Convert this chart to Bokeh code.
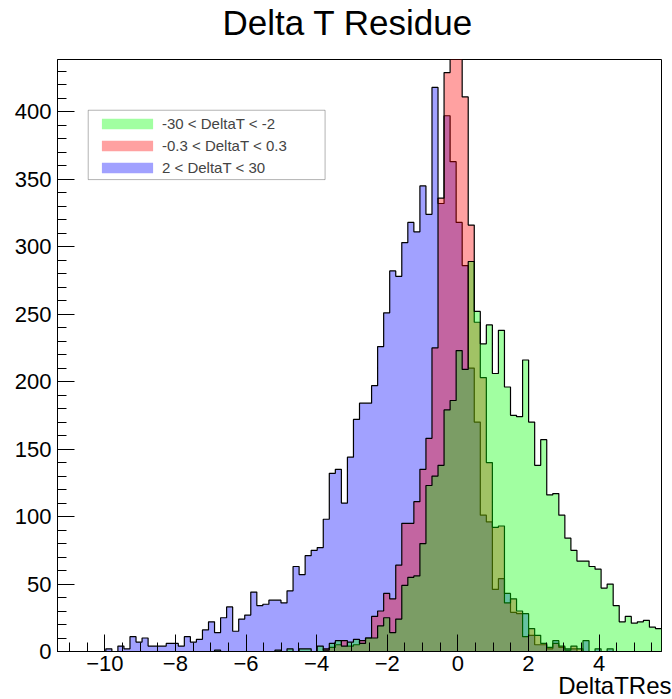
import numpy as np
from bokeh.plotting import figure
from bokeh.models import (Range1d, SingleIntervalTicker, CustomJSTickFormatter,
                          Legend, LegendItem, BoxAnnotation, Title)
from bokeh.embed import file_html
from bokeh.resources import INLINE

# ---------------- data ----------------
X_MIN, X_MAX, N_BINS = -11.34, 5.77, 100
Y_MAX = 438.7

series_labels = ["-30 < DeltaT < -2", "-0.3 < DeltaT < 0.3", "2 < DeltaT < 30"]

green_counts = [
    0, 0, 0, 0, 0, 0, 0, 0, 0, 0,
    0, 0, 0, 0, 0, 0, 0, 0, 0, 0,
    0, 0, 0, 0, 0, 0, 1, 0, 0, 0,
    0, 0, 0, 0, 0, 0, 1, 0, 2, 0,
    2, 2, 0, 4, 1, 6, 8, 4, 7, 9,
    6, 10, 10, 19, 25, 14, 24, 49, 55, 56,
    80, 123, 130, 138, 179, 186, 223, 209, 289, 252,
    228, 242, 206, 238, 196, 175, 174, 216, 170, 138,
    157, 116, 117, 101, 84, 75, 67, 67, 63, 61,
    47, 50, 34, 22, 26, 21, 22, 23, 18, 17,
]

red_counts = [
    0, 0, 0, 0, 0, 0, 0, 0, 0, 0,
    0, 0, 0, 0, 0, 0, 0, 0, 0, 0,
    0, 0, 0, 0, 0, 0, 0, 0, 0, 0,
    0, 0, 0, 0, 0, 0, 0, 0, 0, 0,
    0, 0, 0, 0, 2, 3, 5, 8, 4, 5,
    8, 10, 26, 30, 43, 39, 64, 95, 95, 111,
    135, 158, 225, 336, 429, 455, 450, 411, 316, 244,
    203, 140, 92, 93, 36, 39, 30, 11, 17, 12,
    6, 3, 6, 4, 1, 4, 2, 0, 0, 0,
    0, 0, 0, 0, 0, 0, 0, 0, 0, 0,
]

blue_counts = [
    0, 0, 0, 0, 0, 0, 0, 0, 2, 0,
    4, 2, 11, 7, 10, 4, 4, 4, 6, 6,
    4, 11, 7, 9, 16, 22, 14, 25, 33, 15,
    24, 27, 44, 34, 35, 38, 38, 36, 45, 63,
    57, 71, 75, 77, 98, 132, 135, 110, 144, 172,
    184, 184, 197, 226, 251, 282, 278, 303, 318, 311,
    345, 324, 418, 332, 397, 363, 318, 286, 210, 170,
    101, 96, 46, 54, 43, 29, 28, 28, 12, 5,
    5, 2, 8, 3, 2, 2, 0, 8, 0, 2,
    0, 2, 0, 0, 0, 0, 0, 0, 0, 0,
]

x_tick_interval = 2
y_tick_interval = 50

# ---------------- figure ----------------
FONT = "Liberation Sans"
edges = np.linspace(X_MIN, X_MAX, N_BINS + 1)

p = figure(width=672, height=699,
           x_range=Range1d(X_MIN, X_MAX), y_range=Range1d(0, Y_MAX),
           output_backend="svg", toolbar_location=None,
           min_border_left=57, min_border_right=11,
           min_border_top=59, min_border_bottom=48,
           title="Delta T Residue\n")
p.title.align = "left"
p.title.offset = 165
p.title.standoff = -3
p.title.vertical_align = "bottom"
p.title.text_line_height = 0.5
p.title.text_font = FONT
p.title.text_font_size = "35px"
p.title.text_font_style = "normal"
p.title.text_color = "black"
p.xgrid.visible = False
p.ygrid.visible = False
p.outline_line_color = "black"
p.outline_line_width = 1
p.background_fill_color = "white"
p.border_fill_color = "white"


def draw_hist(counts, color):
    y = list(counts) + [counts[-1]]
    area = p.varea_step(x=edges, y1=np.zeros(len(edges)), y2=y, step_mode="after",
                        fill_color=color, fill_alpha=0.37)
    p.step(x=edges, y=y, mode="after", line_color="black", line_width=1.2)
    return area

# draw order: blue, red, green (green on top)
blue_r = draw_hist(blue_counts, "#0000ff")
red_r = draw_hist(red_counts, "#ff0000")
green_r = draw_hist(green_counts, "#00ff00")

# ---------------- axes ----------------
p.xaxis.ticker = SingleIntervalTicker(interval=x_tick_interval, num_minor_ticks=4)
p.yaxis.ticker = SingleIntervalTicker(interval=y_tick_interval, num_minor_ticks=5)
p.xaxis.formatter = CustomJSTickFormatter(
    code="return (tick < 0 ? '\u2212' : '') + Math.abs(Math.round(tick));")
for ax in (p.xaxis[0], p.yaxis[0]):
    ax.major_tick_out = 0
    ax.minor_tick_out = 0
    ax.major_tick_in = 17
    ax.minor_tick_in = 9
    ax.major_tick_line_color = "black"
    ax.minor_tick_line_color = "black"
    ax.axis_line_color = "black"
    ax.major_label_text_font = FONT
    ax.major_label_text_font_size = "22px"
    ax.major_label_text_color = "black"
p.xaxis.major_label_standoff = 4
p.yaxis.major_label_standoff = 6

# x-axis title, right aligned below the tick labels
p.add_layout(Title(text="DeltaTRes", align="right", offset=-10, standoff=-8,
                   text_font=FONT, text_font_size="24px", text_font_style="normal",
                   text_color="black"), "below")

# ---------------- legend ----------------
legend = Legend(items=[
    LegendItem(label=series_labels[0], renderers=[green_r]),
    LegendItem(label=series_labels[1], renderers=[red_r]),
    LegendItem(label=series_labels[2], renderers=[blue_r]),
], location=(36, 472), orientation="vertical", glyph_width=64, glyph_height=13,
    label_text_font=FONT, label_text_font_size="15px", label_standoff=3,
    padding=2, spacing=2, margin=0, label_height=20,
    border_line_alpha=0, background_fill_alpha=0)
p.add_layout(legend, "center")
p.add_layout(BoxAnnotation(left=-10.47, right=-3.76, bottom=349.7, top=401.1,
                           fill_alpha=0, line_color="black", line_width=1))

open("out.html", "w").write(file_html(p, INLINE))
